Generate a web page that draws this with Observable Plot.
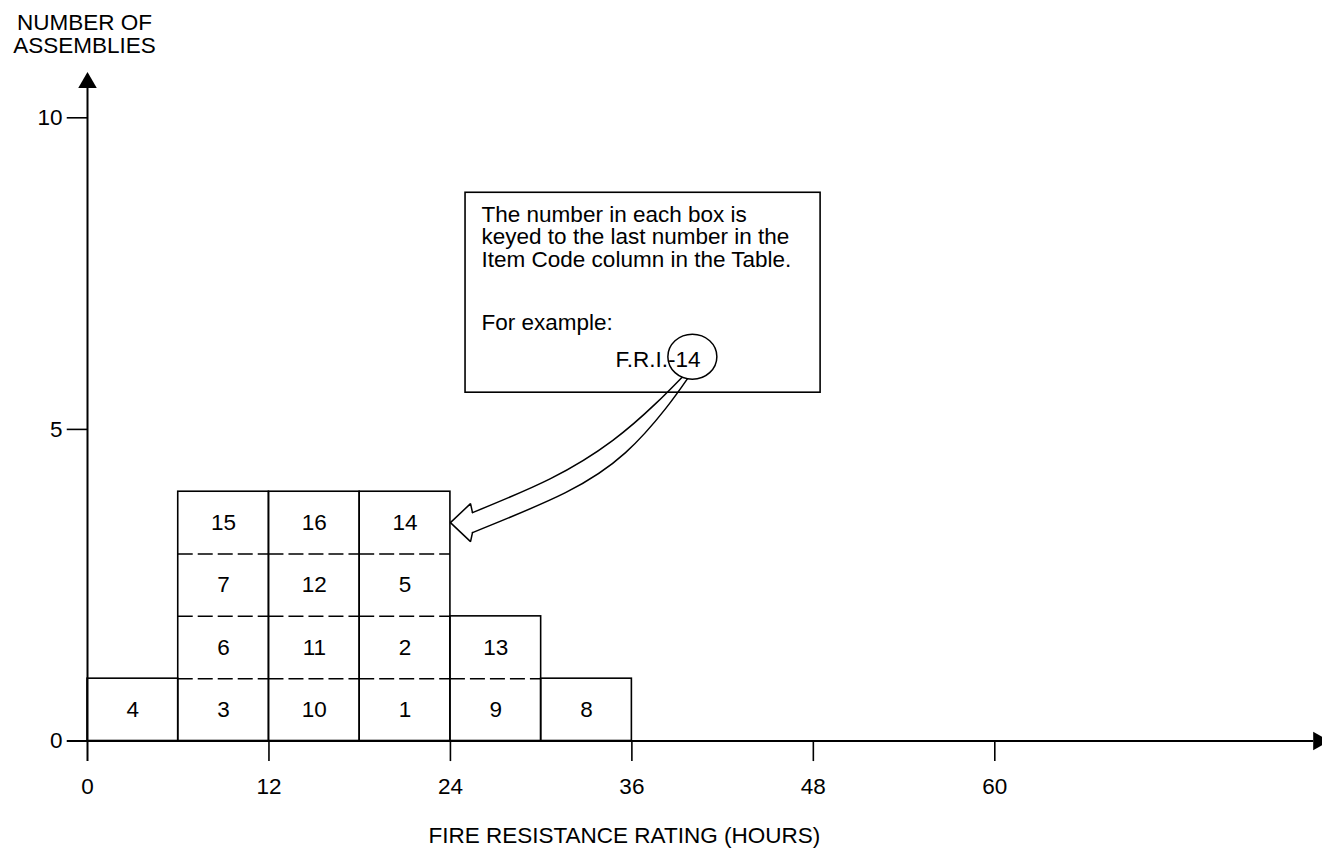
<!DOCTYPE html>
<html>
<head>
<meta charset="utf-8">
<script src="https://cdn.jsdelivr.net/npm/d3@7"></script>
<script src="https://cdn.jsdelivr.net/npm/@observablehq/plot@0.6"></script>
<style>
  html, body { margin: 0; padding: 0; background: #fff; overflow: hidden; }
  #chart svg { display: block; }
</style>
</head>
<body>
<div id="chart"></div>
<script>
// ---- data ----
const binStart = [0, 6, 12, 18, 24, 30];          // hours, left edge of each 6-hour bin
const binWidth = 6;
const itemCodes = [[4], [3, 6, 7, 15], [10, 11, 12, 16], [1, 2, 5, 14], [9, 13], [8]]; // bottom-up
const xTicks = [0, 12, 24, 36, 48, 60];
const yTicks = [0, 5, 10];
const xTitle = "FIRE RESISTANCE RATING (HOURS)";
const yTitle = "NUMBER OF\nASSEMBLIES";
const noteLines = "The number in each box is\nkeyed to the last number in the\nItem Code column in the Table.";
const noteExample = "For example:";
const noteCode = "F.R.I.-14";

// annotation geometry in data units (hours, assemblies)
const noteBox = {x1: 25.0, x2: 48.48, y1: 5.589, y2: 8.797};
const notePos = {x: 26.06, y: 8.589, yExample: 6.857, xCode: 34.92, yCode: 6.263};
const circlePos = {x: 40.0, y: 6.167};
const arrowUpper = [[39.29, 5.83], [37.57, 5.413], [34.72, 4.820], [30.62, 4.210], [25.46, 3.665]];
const arrowLower = [[39.68, 5.814], [38.23, 5.333], [35.58, 4.627], [31.61, 3.985], [25.46, 3.344]];
const arrowHead = [[25.46, 3.665], [25.33, 3.809], [24.0, 3.504], [25.33, 3.199], [25.46, 3.344]];

// ---- derived tables ----
const columns = binStart.map((x, i) => ({x1: x, x2: x + binWidth, count: itemCodes[i].length}));
const boxes = binStart.flatMap((x, i) => itemCodes[i].map((code, k) => ({x: x + binWidth / 2, y: k + 0.5, code})));
const dividers = binStart.flatMap((x, i) => d3.range(1, itemCodes[i].length).map(k => ({x1: x, x2: x + binWidth, y: k})));
const toPts = a => a.map(([x, y]) => ({x, y}));

const font = "'Liberation Sans', Arial, Helvetica, sans-serif";
const fs = 22.5;

const triRight = {
  draw(ctx, size) {
    const y = Math.sqrt(size / (Math.sqrt(3) * 3));
    ctx.moveTo(2 * y, 0);
    ctx.lineTo(-y, -Math.sqrt(3) * y);
    ctx.lineTo(-y, Math.sqrt(3) * y);
    ctx.closePath();
  }
};
const ellipse = {
  draw(ctx) {
    const rx = 24.5, ry = 22.5, k = 0.5523;
    ctx.moveTo(rx, 0);
    ctx.bezierCurveTo(rx, ry * k, rx * k, ry, 0, ry);
    ctx.bezierCurveTo(-rx * k, ry, -rx, ry * k, -rx, 0);
    ctx.bezierCurveTo(-rx, -ry * k, -rx * k, -ry, 0, -ry);
    ctx.bezierCurveTo(rx * k, -ry, rx, -ry * k, rx, 0);
    ctx.closePath();
  }
};

const chart = Plot.plot({
  width: 1322,
  height: 848,
  margin: 0,
  style: {fontFamily: font, fontSize: fs + "px", background: "#fff", color: "#000"},
  x: {domain: [0, 60], range: [87, 994.3], axis: null},
  y: {domain: [0, 10], range: [740.5, 117.3], axis: null},
  marks: [
    // stacked boxes
    Plot.rect(columns, {x1: "x1", x2: "x2", y1: 0, y2: "count", fill: "none", stroke: "#000", strokeWidth: 1.6}),
    Plot.ruleY(dividers, {y: "y", x1: "x1", x2: "x2", stroke: "#000", strokeWidth: 1.5, strokeDasharray: "15,5"}),
    Plot.text(boxes, {x: "x", y: "y", text: d => String(d.code), fontSize: fs, fill: "#000"}),

    // axes
    Plot.ruleX([0], {y1: -0.33, y2: 10.48, stroke: "#000", strokeWidth: 2}),
    Plot.ruleY([0], {x1: -1.34, x2: 81.1, stroke: "#000", strokeWidth: 2}),
    Plot.ruleX(xTicks.filter(d => d > 0), {x: d => d, y1: 0, y2: -0.33, stroke: "#000", strokeWidth: 1.6}),
    Plot.ruleY(yTicks.filter(d => d > 0), {y: d => d, x1: -1.34, x2: 0, stroke: "#000", strokeWidth: 1.6}),
    Plot.dot([{x: 0, y: 10.563}], {x: "x", y: "y", symbol: "triangle", r: 6.87, fill: "#000", stroke: "none"}),
    Plot.dot([{x: 81.41, y: 0}], {x: "x", y: "y", symbol: triRight, r: 6.87, fill: "#000", stroke: "none"}),
    Plot.text(xTicks, {x: d => d, y: -0.6, text: d => String(d), lineAnchor: "top", fontSize: fs, fill: "#000"}),
    Plot.text(yTicks, {x: -1.65, y: d => d, text: d => String(d), textAnchor: "end", lineAnchor: "middle", fontSize: fs, fill: "#000"}),
    Plot.text([xTitle], {x: 35.5, y: -1.387, text: d => d, lineAnchor: "top", fontSize: fs, fill: "#000"}),
    Plot.text([yTitle], {x: -0.2, y: 11.66, text: d => d, lineAnchor: "top", lineHeight: 1.0, fontSize: fs, fill: "#000"}),

    // annotation
    Plot.rect([noteBox], {x1: "x1", x2: "x2", y1: "y1", y2: "y2", fill: "#fff", stroke: "#000", strokeWidth: 1.6}),
    Plot.text([noteLines], {x: notePos.x, y: notePos.y, text: d => d, textAnchor: "start", lineAnchor: "top", lineHeight: 1.0, fontSize: fs, fill: "#000"}),
    Plot.text([noteExample], {x: notePos.x, y: notePos.yExample, text: d => d, textAnchor: "start", lineAnchor: "top", fontSize: fs, fill: "#000"}),
    Plot.text([noteCode], {x: notePos.xCode, y: notePos.yCode, text: d => d, textAnchor: "start", lineAnchor: "top", fontSize: fs, fill: "#000"}),
    Plot.dot([circlePos], {x: "x", y: "y", symbol: ellipse, r: 1, fill: "none", stroke: "#000", strokeWidth: 1.5}),
    Plot.line(toPts(arrowUpper), {x: "x", y: "y", curve: "natural", stroke: "#000", strokeWidth: 1.5}),
    Plot.line(toPts(arrowLower), {x: "x", y: "y", curve: "natural", stroke: "#000", strokeWidth: 1.5}),
    Plot.line(toPts(arrowHead), {x: "x", y: "y", curve: "linear", stroke: "#000", strokeWidth: 1.5, strokeLinejoin: "miter"})
  ]
});
document.getElementById("chart").appendChild(chart);
</script>
</body>
</html>
